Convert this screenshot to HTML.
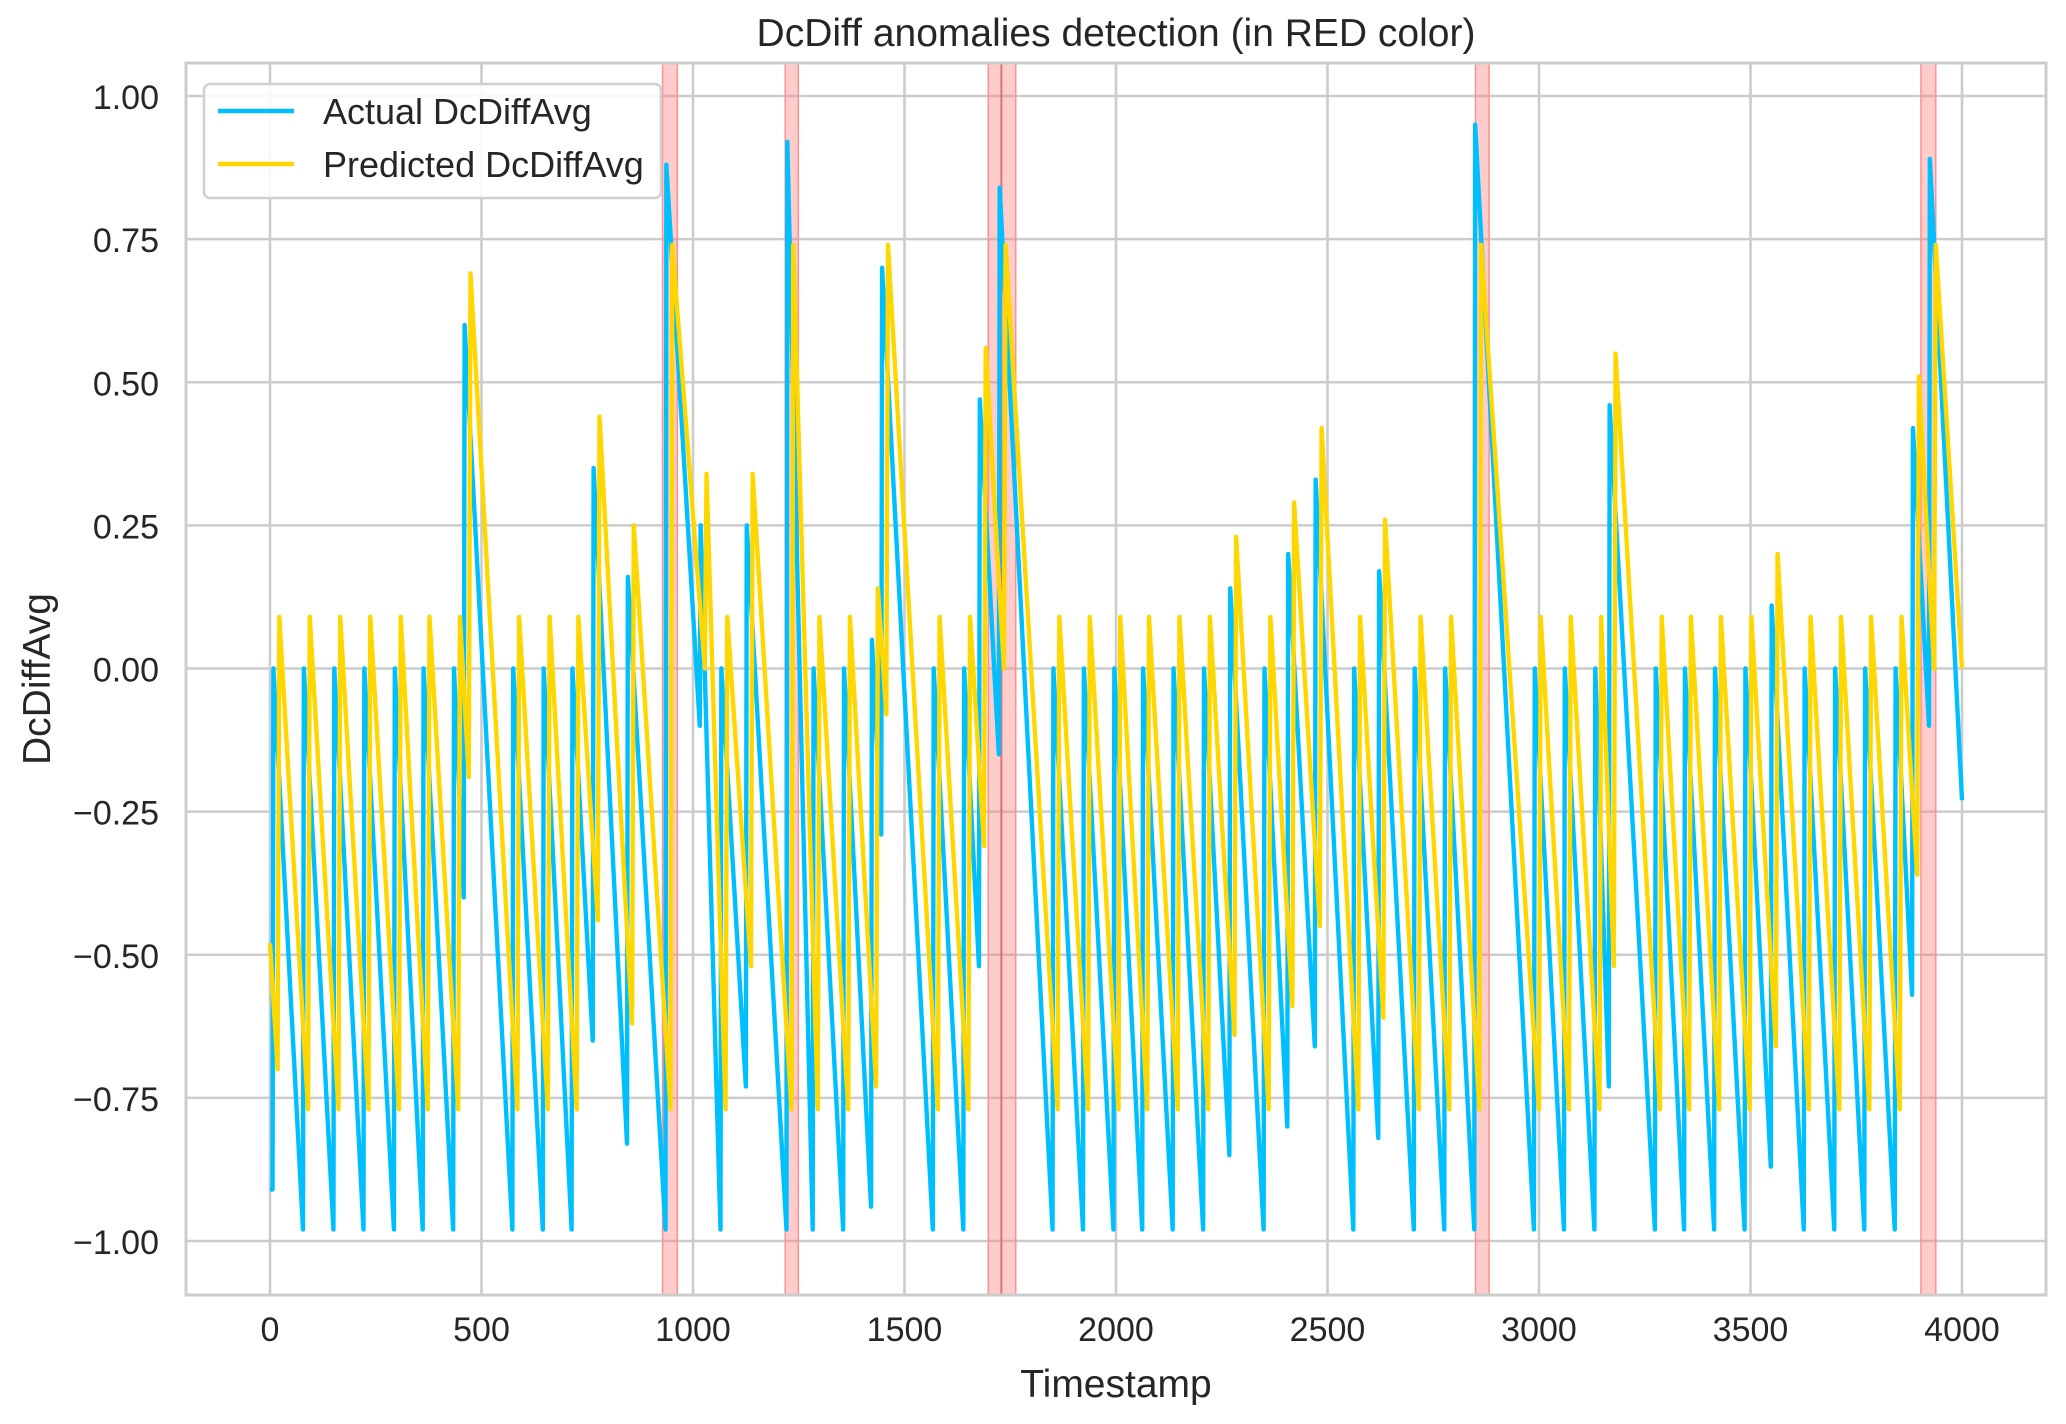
<!DOCTYPE html>
<html><head><meta charset="utf-8"><style>
html,body{margin:0;padding:0;background:#fff}
svg{display:block}
text{font-family:"Liberation Sans",sans-serif;fill:#262626}
</style></head><body>
<svg id="s" width="2066" height="1424" viewBox="0 0 2066 1424" xmlns="http://www.w3.org/2000/svg">
<rect width="2066" height="1424" fill="#fff"/>
<g id="grid" stroke="#cccccc" stroke-width="2.6"></g>
<g id="spans"></g>
<path id="blue" fill="none" stroke="#00bfff" stroke-width="4.4" stroke-linejoin="round"/>
<path id="yel" fill="none" stroke="#ffd700" stroke-width="4.4" stroke-linejoin="round"/>
<rect x="186" y="63" width="1860" height="1232" fill="none" stroke="#cccccc" stroke-width="3"/>
<g id="labels"></g>
<text x="1116" y="46" font-size="39" text-anchor="middle">DcDiff anomalies detection (in RED color)</text>
<text x="1116" y="1397" font-size="39" text-anchor="middle">Timestamp</text>
<text transform="translate(50,679) rotate(-90)" font-size="39" text-anchor="middle">DcDiffAvg</text>
<rect x="204" y="84" width="457" height="114" rx="6" fill="#fff" fill-opacity="0.85" stroke="#d0d0d0" stroke-width="2.5"/>
<line x1="218" y1="111" x2="294" y2="111" stroke="#00bfff" stroke-width="4.4"/>
<line x1="218" y1="164" x2="294" y2="164" stroke="#ffd700" stroke-width="4.4"/>
<text x="323" y="124" font-size="36">Actual DcDiffAvg</text>
<text x="323" y="177" font-size="36">Predicted DcDiffAvg</text>
</svg>
<script>
var NS="http://www.w3.org/2000/svg";
function X(t){return 270+t*0.423;}
function Y(v){return 668.5-v*572.5;}
function el(p,n,a,txt){var e=document.createElementNS(NS,n);for(var k in a)e.setAttribute(k,a[k]);if(txt!==undefined)e.textContent=txt;document.getElementById(p).appendChild(e);}
for(var t=0;t<=4000;t+=500){el("grid","line",{x1:X(t),x2:X(t),y1:63,y2:1295});el("labels","text",{x:X(t),y:1341,"font-size":34,"text-anchor":"middle"},t);}
var yt=[1,0.75,0.5,0.25,0,-0.25,-0.5,-0.75,-1];
yt.forEach(function(v){el("grid","line",{x1:186,x2:2046,y1:Y(v),y2:Y(v)});el("labels","text",{x:159,y:Y(v)+13,"font-size":34,"text-anchor":"end"},(v<0?"\u2212":"")+Math.abs(v).toFixed(2));});
[[928,963],[1218,1249],[1698,1763],[2850,2882],[3903,3938]].forEach(function(s){el("spans","rect",{x:X(s[0]),y:63,width:X(s[1])-X(s[0]),height:1232,fill:"#ff8080","fill-opacity":0.4,stroke:"#ff9090","stroke-width":1.5});});
el("spans","line",{x1:X(1729),x2:X(1729),y1:63,y2:1295,stroke:"#e07070","stroke-width":2});
var ev=[[6,0,-0.91],[78,0],[150,0],[221,0],[293,0],[361,0],[433,0],[458,0.6,-0.4],[573,0],[645,0],[713,0],[763,0.35,-0.65],[844,0.16,-0.83],[935,0.88],[1016,0.25,-0.1],[1065,0],[1125,0.25,-0.73],[1221,0.92],[1283,0],[1355,0],[1421,0.05,-0.94],[1445,0.7,-0.29],[1567,0],[1639,0],[1676,0.47,-0.52],[1723,0.84,-0.15],[1850,0],[1922,0],[1994,0],[2062,0],[2134,0],[2206,0],[2268,0.14,-0.85],[2349,0],[2405,0.2,-0.8],[2470,0.33,-0.66],[2561,0],[2620,0.17,-0.82],[2704,0],[2776,0],[2847,0.95],[2988,0],[3059,0],[3131,0],[3165,0.46,-0.73],[3274,0],[3343,0],[3414,0],[3486,0],[3548,0.11,-0.87],[3626,0],[3698,0],[3769,0],[3841,0],[3882,0.42,-0.57],[3922,0.89,-0.1]];
var b="M"+X(0)+","+Y(-0.91),y="M"+X(0)+","+Y(-0.48);
ev.forEach(function(e){var mn=e.length>2?e[2]:-0.98;var pk=e[1];
b+=" L"+X(e[0])+","+Y(mn)+" L"+X(e[0]+2)+","+Y(pk);
var ym=Math.min(mn+0.21,0),yp=Math.min(pk+0.09,0.74);
y+=" L"+X(e[0]+12)+","+Y(ym)+" L"+X(e[0]+16)+","+Y(yp);});
b+=" L"+X(4000)+","+Y(-0.23);y+=" L"+X(4000)+","+Y(0);
document.getElementById("blue").setAttribute("d",b);
document.getElementById("yel").setAttribute("d",y);
</script>
</body></html>
